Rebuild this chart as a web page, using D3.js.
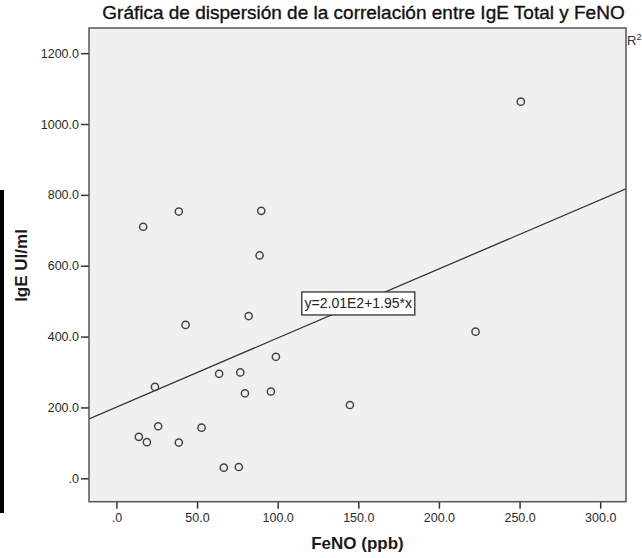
<!DOCTYPE html>
<html>
<head>
<meta charset="utf-8">
<script src="https://cdn.jsdelivr.net/npm/d3@7"></script>
<style>
  body { margin: 0; background: #fff; }
  svg text { font-family: "Liberation Sans", Arial, sans-serif; }
</style>
</head>
<body>
<div id="app"></div>
<script>
// FeNO (ppb) and total IgE (UI/ml) per patient
const feno = [16.6, 38.7, 89.8, 88.8, 82.0, 42.9, 98.9, 63.7, 76.8, 79.7, 95.8,
  23.9, 25.9, 52.8, 13.9, 18.9, 38.7, 66.6, 75.9, 144.8, 222.7, 250.8];
const ige = [710, 753, 755, 629, 458, 433, 343, 295, 299, 240, 245,
  258, 147, 143, 117, 102, 101, 30, 32, 207, 414, 1063];

// fit line shown in the chart: y = 2.01E2 + 1.95*x
const intercept = 201;
const slope = 1.95;
const fitLabel = "y=2.01E2+1.95*x";
const labelAt = 150;

const xTicks = [0, 50, 100, 150, 200, 250, 300];
const yTicks = [0, 200, 400, 600, 800, 1000, 1200];
const xDomain = [-17, 316];
const yDomain = [-66, 1271];

const title = "Gráfica de dispersión de la correlación entre IgE Total y FeNO";
const xTitle = "FeNO (ppb)";
const yTitle = "IgE UI/ml";

const W = 642;
const H = 558;
const plot = { left: 89, top: 28, right: 626, bottom: 501.7 };

const svg = d3
  .select("#app")
  .append("svg")
  .attr("width", W)
  .attr("height", H);

const x = d3.scaleLinear().domain(xDomain).range([plot.left, plot.right]);
const y = d3.scaleLinear().domain(yDomain).range([plot.bottom, plot.top]);

const fmt = (d) => (d === 0 ? ".0" : d3.format(".1f")(d));

//cropped black bar on the left edge
svg.append("rect")
  .attr("x", 0)
  .attr("y", 190)
  .attr("width", 4)
  .attr("height", 323)
  .attr("fill", "#000");

//title
svg.append("text")
  .attr("x", 363.5)
  .attr("y", 18.5)
  .attr("text-anchor", "middle")
  .attr("font-size", 19)
  .attr("fill", "#111")
  .attr("stroke", "#111")
  .attr("stroke-width", 0.35)
  .text(title);

//plot background
svg.append("rect")
  .attr("x", plot.left)
  .attr("y", plot.top)
  .attr("width", plot.right - plot.left)
  .attr("height", plot.bottom - plot.top)
  .attr("fill", "#f0f0f0");

svg.append("clipPath")
  .attr("id", "clip")
  .append("rect")
  .attr("x", plot.left)
  .attr("y", plot.top)
  .attr("width", plot.right - plot.left)
  .attr("height", plot.bottom - plot.top);

//axes
const xAxis = d3.axisBottom(x).tickValues(xTicks).tickFormat(fmt)
  .tickSize(7).tickPadding(4).tickSizeOuter(0);
const yAxis = d3.axisLeft(y).tickValues(yTicks).tickFormat(fmt)
  .tickSize(8).tickPadding(2).tickSizeOuter(0);

const gx = svg.append("g")
  .attr("transform", `translate(0,${plot.bottom})`)
  .call(xAxis);
const gy = svg.append("g")
  .attr("transform", `translate(${plot.left},0)`)
  .call(yAxis);

[gx, gy].forEach((g) => {
  g.select(".domain").remove();
  g.selectAll("line").attr("stroke", "#333").attr("stroke-width", 1.5);
  g.selectAll("text")
    .attr("font-size", 12.5)
    .attr("fill", "#2a2a2a")
    .style("font-family", '"Liberation Sans", Arial, sans-serif');
});

//fit line
svg.append("line")
  .attr("clip-path", "url(#clip)")
  .attr("x1", x(xDomain[0]))
  .attr("y1", y(intercept + slope * xDomain[0]))
  .attr("x2", x(xDomain[1]))
  .attr("y2", y(intercept + slope * xDomain[1]))
  .attr("stroke", "#333")
  .attr("stroke-width", 1.3);

//points
svg.append("g")
  .selectAll("circle")
  .data(feno.map((d, i) => [d, ige[i]]))
  .enter()
  .append("circle")
  .attr("cx", (d) => x(d[0]))
  .attr("cy", (d) => y(d[1]))
  .attr("r", 3.6)
  .attr("fill", "none")
  .attr("stroke", "#444")
  .attr("stroke-width", 1.5);

//equation label on the line
const lx = x(labelAt);
const ly = y(intercept + slope * labelAt);
svg.append("rect")
  .attr("x", lx - 56.5)
  .attr("y", ly - 11.5)
  .attr("width", 113)
  .attr("height", 23)
  .attr("fill", "#fff")
  .attr("stroke", "#222")
  .attr("stroke-width", 1.2);
svg.append("text")
  .attr("x", lx)
  .attr("y", ly + 5)
  .attr("text-anchor", "middle")
  .attr("font-size", 14)
  .attr("fill", "#222")
  .text(fitLabel);

//plot border
svg.append("rect")
  .attr("x", plot.left)
  .attr("y", plot.top)
  .attr("width", plot.right - plot.left)
  .attr("height", plot.bottom - plot.top)
  .attr("fill", "none")
  .attr("stroke", "#555")
  .attr("stroke-width", 1.5);

//R² cut at the right edge
const r2 = svg.append("text")
  .attr("x", 627)
  .attr("y", 45)
  .attr("font-size", 13)
  .attr("fill", "#333");
r2.append("tspan").text("R");
r2.append("tspan").attr("dy", -5).attr("font-size", 9).text("2");

//axis titles
svg.append("text")
  .attr("x", (plot.left + plot.right) / 2)
  .attr("y", 549)
  .attr("text-anchor", "middle")
  .attr("font-size", 17)
  .attr("font-weight", "bold")
  .attr("fill", "#1a1a1a")
  .text(xTitle);

svg.append("text")
  .attr("transform", `translate(27,265.5) rotate(-90)`)
  .attr("text-anchor", "middle")
  .attr("font-size", 17)
  .attr("font-weight", "bold")
  .attr("fill", "#1a1a1a")
  .text(yTitle);
</script>
</body>
</html>
